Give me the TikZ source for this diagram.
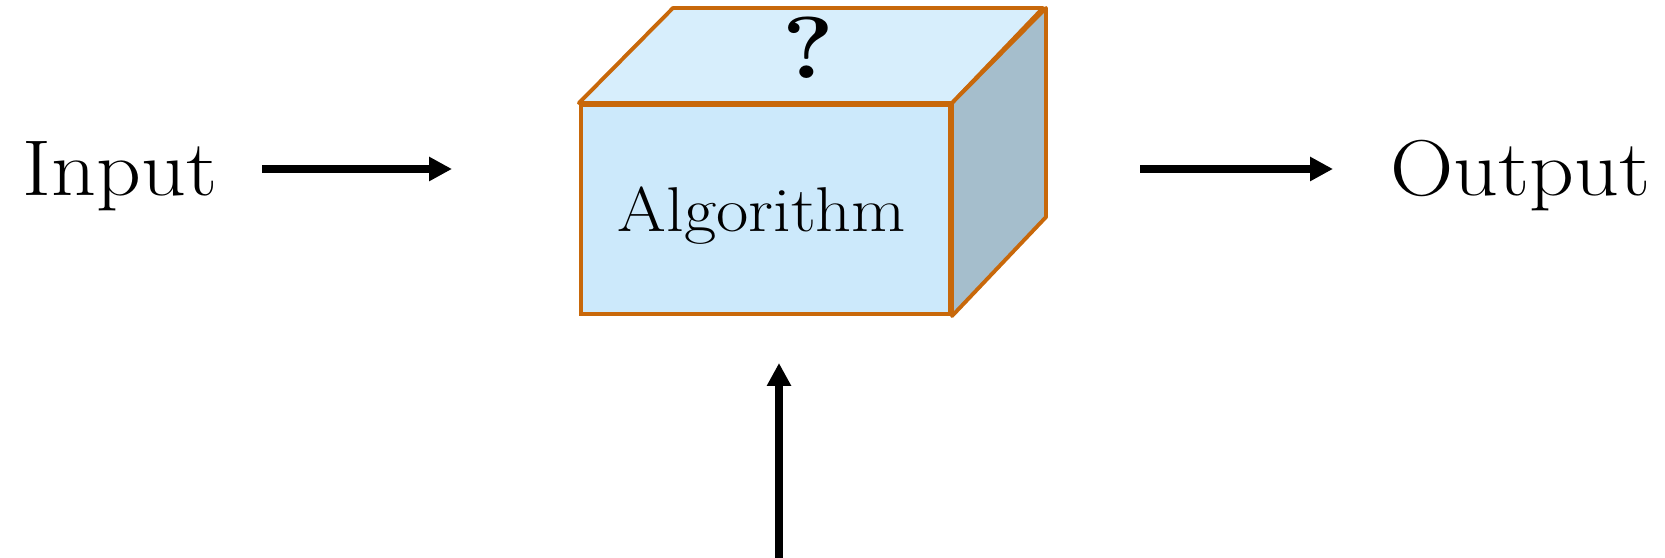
\documentclass[tikz,border=0pt]{standalone}
\usepackage{fontspec}
\setmainfont{Latin Modern Roman}[FakeStretch=1.11]
\usetikzlibrary{arrows.meta}

\definecolor{borde}{RGB}{200,104,10}
\definecolor{frente}{RGB}{204,233,251}
\definecolor{tapa}{RGB}{215,238,252}
\definecolor{lado}{RGB}{165,190,204}

\tikzset{
  etiqueta/.style={inner sep=0pt, anchor=base west, font=\fontsize{22.5}{27}\selectfont},
  caja/.style={draw=borde, fill=frente, line width=1.1pt, minimum width=3.69cm, minimum height=2.09cm, inner sep=0pt},
  flujo/.style={line width=2pt, -{Triangle[length=6.5pt,width=6.5pt]}}
}

\begin{document}
\begin{tikzpicture}[x=0.01cm, y=-0.01cm]
\useasboundingbox (0,0) rectangle (1665,558);

% Caja del algoritmo
\node[caja] (algo) at (765.5,209.5) {};
\filldraw[draw=borde, fill=tapa, line width=1.1pt, line join=round]
  (algo.north west) -- ++(94,-95) -- ++(370,0) -- (algo.north east) -- cycle;
\filldraw[draw=borde, fill=lado, line width=1.1pt, line join=round]
  (algo.north east) -- ++(94,-95) -- ++(0,209) -- (algo.south east) -- cycle;
\node[inner sep=0pt, anchor=base, font=\fontsize{18}{22}\selectfont] (algotxt) at (762,232) {Algorithm};
\node[inner sep=0pt, anchor=base, font=\fontsize{25}{30}\selectfont\bfseries] (duda) at (808,79) {?};

% Entrada y salida
\node[etiqueta] (input) at (22,196) {Input};
\node[etiqueta] (output) at (1390,196) {Output};

\coordinate (in-a) at (262,169);
\coordinate (in-b) at (452,169);
\coordinate (out-a) at (1140,169);
\coordinate (out-b) at (1333,169);
\coordinate (abajo-a) at (779,558);
\coordinate (abajo-b) at (779,363);

% Flechas
\draw[flujo] (in-a) -- (in-b);
\draw[flujo] (out-a) -- (out-b);
\draw[flujo] (abajo-a) -- (abajo-b);

\end{tikzpicture}
\end{document}
